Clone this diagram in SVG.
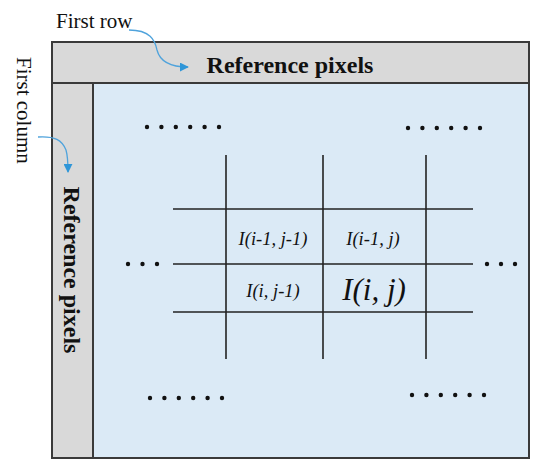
<svg xmlns="http://www.w3.org/2000/svg" width="550" height="473" viewBox="0 0 550 473">
<style>
.frame{stroke:#3a3a3a;stroke-width:2}
.grid line{stroke:#222;stroke-width:1.6}
.lbl{font-family:"Liberation Serif",serif;fill:#111}
.it{font-family:"Liberation Serif",serif;font-style:italic;fill:#111;text-anchor:middle}
.bold{font-family:"Liberation Serif",serif;font-weight:bold;font-size:24px;fill:#111;text-anchor:middle}
.dot{fill:#111}
.arr{fill:none;stroke:#4fa3dc;stroke-width:1.3}
</style>
<defs>
<marker id="ah" viewBox="0 0 10 10" refX="9" refY="5" markerWidth="9" markerHeight="9" markerUnits="userSpaceOnUse" orient="auto">
<path d="M0,0 L10,5 L0,10 z" fill="#2f96d8"/>
</marker>
</defs>
<rect width="550" height="473" fill="#fff"/>
<g id="image-area">
<rect x="93" y="83" width="436" height="375" fill="#dbeaf6"/>
</g>
<g id="first-row-band">
<rect x="52" y="42" width="477" height="41" fill="#d9d9d9" class="frame"/>
<text class="bold" x="290" y="73">Reference pixels</text>
</g>
<g id="first-column-band">
<rect x="52" y="83" width="41" height="375" fill="#d9d9d9" class="frame"/>
<text class="bold" transform="translate(64,270) rotate(90)">Reference pixels</text>
</g>
<rect x="52" y="42" width="477" height="416" fill="none" class="frame"/>
<g id="labels">
<text class="lbl" x="56" y="28" font-size="21">First row</text>
<text class="lbl" font-size="21" transform="translate(17,57) rotate(90)">First column</text>
</g>
<g id="grid" class="grid">
<line x1="226" y1="155" x2="226" y2="359"/>
<line x1="323" y1="155" x2="323" y2="359"/>
<line x1="426" y1="155" x2="426" y2="359"/>
<line x1="173" y1="209" x2="473" y2="209"/>
<line x1="173" y1="264" x2="473" y2="264"/>
<line x1="173" y1="312" x2="473" y2="312"/>
</g>
<g id="cells">
<text class="it" x="273" y="245" font-size="18.5">I(i-1, j-1)</text>
<text class="it" x="373" y="245" font-size="18.5">I(i-1, j)</text>
<text class="it" x="273" y="297" font-size="18.5">I(i, j-1)</text>
<text class="it" x="374" y="300" font-size="31">I(i, j)</text>
</g>
<g id="dots">
<g class="dot">
<circle cx="147" cy="127" r="2.2"/><circle cx="161.4" cy="127" r="2.2"/><circle cx="175.8" cy="127" r="2.2"/><circle cx="190.2" cy="127" r="2.2"/><circle cx="204.6" cy="127" r="2.2"/><circle cx="219" cy="127" r="2.2"/>
<circle cx="408" cy="128" r="2.2"/><circle cx="422.4" cy="128" r="2.2"/><circle cx="436.8" cy="128" r="2.2"/><circle cx="451.2" cy="128" r="2.2"/><circle cx="465.6" cy="128" r="2.2"/><circle cx="480" cy="128" r="2.2"/>
<circle cx="128" cy="264" r="2.2"/><circle cx="142.5" cy="264" r="2.2"/><circle cx="157" cy="264" r="2.2"/>
<circle cx="487" cy="264" r="2.2"/><circle cx="501" cy="264" r="2.2"/><circle cx="515" cy="264" r="2.2"/>
<circle cx="150" cy="398" r="2.2"/><circle cx="164.4" cy="398" r="2.2"/><circle cx="178.8" cy="398" r="2.2"/><circle cx="193.2" cy="398" r="2.2"/><circle cx="207.6" cy="398" r="2.2"/><circle cx="222" cy="398" r="2.2"/>
<circle cx="412" cy="395" r="2.2"/><circle cx="426.4" cy="395" r="2.2"/><circle cx="440.8" cy="395" r="2.2"/><circle cx="455.2" cy="395" r="2.2"/><circle cx="469.6" cy="395" r="2.2"/><circle cx="484" cy="395" r="2.2"/>
</g>
</g>
<g id="connectors">
<path class="arr" d="M129,30 C150,30 155,40 157,50 C160,62 170,67 188,67" marker-end="url(#ah)"/>
<path class="arr" d="M38,137 C55,136 62,140 66,150 C68,157 68,162 68,172" marker-end="url(#ah)"/>
</g>
</svg>
